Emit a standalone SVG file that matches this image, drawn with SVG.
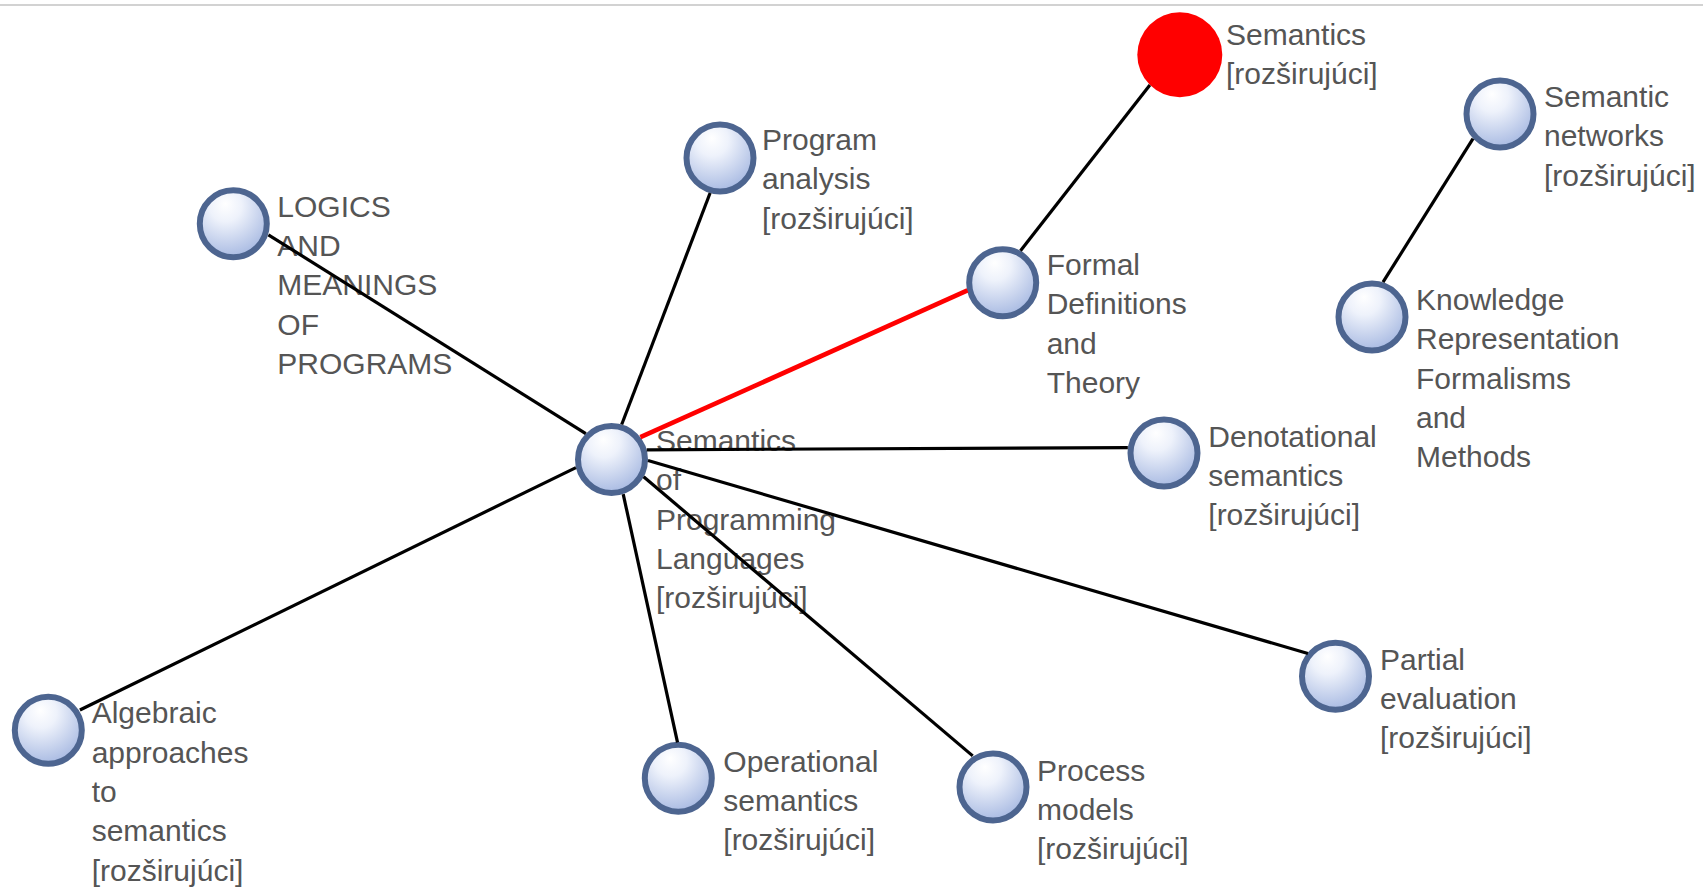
<svg xmlns="http://www.w3.org/2000/svg" width="1703" height="887" viewBox="0 0 1703 887">
<style>
.node{fill:url(#nodeFill);stroke:#4d6590;stroke-width:6}
.lbl{font-family:"Liberation Sans",Arial,sans-serif;font-size:30px;fill:#555555}
.edge{stroke:#000000;stroke-width:3.2;fill:none}
.edge.hl{stroke:#ff0000;stroke-width:4.6}
</style>
<defs>
<radialGradient id="nodeFill" cx="0.4" cy="0.3" r="0.8" fx="0.38" fy="0.2">
<stop offset="0" stop-color="#ffffff"/>
<stop offset="0.3" stop-color="#eef2fb"/>
<stop offset="1" stop-color="#9db1de"/>
</radialGradient>
</defs>
<rect x="0" y="0" width="1703" height="887" fill="#ffffff"/>
<line x1="0" y1="5" x2="1703" y2="5" stroke="#d2d2d2" stroke-width="2"/>

<g id="node-spl">
<circle class="node" cx="611.5" cy="459.5" r="33.5"/>
<text class="lbl" x="656" y="451"><tspan x="656">Semantics</tspan><tspan x="656" dy="39.3">of</tspan><tspan x="656" dy="39.3">Programming</tspan><tspan x="656" dy="39.3">Languages</tspan><tspan x="656" dy="39.3">[rozširujúci]</tspan></text>
</g>
<g id="node-logics">
<circle class="node" cx="233.3" cy="223.7" r="33.5"/>
<text class="lbl" x="277.3" y="216.7"><tspan x="277.3">LOGICS</tspan><tspan x="277.3" dy="39.3">AND</tspan><tspan x="277.3" dy="39.3">MEANINGS</tspan><tspan x="277.3" dy="39.3">OF</tspan><tspan x="277.3" dy="39.3">PROGRAMS</tspan></text>
</g>
<g id="node-program-analysis">
<circle class="node" cx="720" cy="158" r="33.5"/>
<text class="lbl" x="762" y="150"><tspan x="762">Program</tspan><tspan x="762" dy="39.3">analysis</tspan><tspan x="762" dy="39.3">[rozširujúci]</tspan></text>
</g>
<g id="node-formal">
<circle class="node" cx="1002.7" cy="282.7" r="33.5"/>
<text class="lbl" x="1046.7" y="275"><tspan x="1046.7">Formal</tspan><tspan x="1046.7" dy="39.3">Definitions</tspan><tspan x="1046.7" dy="39.3">and</tspan><tspan x="1046.7" dy="39.3">Theory</tspan></text>
</g>
<g id="node-semantics">
<circle cx="1179.8" cy="54.8" r="42.5" fill="#ff0000"/>
<text class="lbl" x="1226" y="45"><tspan x="1226">Semantics</tspan><tspan x="1226" dy="39.3">[rozširujúci]</tspan></text>
</g>
<g id="node-semantic-networks">
<circle class="node" cx="1500" cy="114" r="33.5"/>
<text class="lbl" x="1544" y="107"><tspan x="1544">Semantic</tspan><tspan x="1544" dy="39.3">networks</tspan><tspan x="1544" dy="39.3">[rozširujúci]</tspan></text>
</g>
<g id="node-knowledge">
<circle class="node" cx="1372" cy="317" r="33.5"/>
<text class="lbl" x="1416" y="310"><tspan x="1416">Knowledge</tspan><tspan x="1416" dy="39.3">Representation</tspan><tspan x="1416" dy="39.3">Formalisms</tspan><tspan x="1416" dy="39.3">and</tspan><tspan x="1416" dy="39.3">Methods</tspan></text>
</g>
<g id="node-denotational">
<circle class="node" cx="1164" cy="453" r="33.5"/>
<text class="lbl" x="1208.3" y="446.5"><tspan x="1208.3">Denotational</tspan><tspan x="1208.3" dy="39.3">semantics</tspan><tspan x="1208.3" dy="39.3">[rozširujúci]</tspan></text>
</g>
<g id="node-partial">
<circle class="node" cx="1335.5" cy="676.3" r="33.5"/>
<text class="lbl" x="1380" y="669.5"><tspan x="1380">Partial</tspan><tspan x="1380" dy="39.3">evaluation</tspan><tspan x="1380" dy="39.3">[rozširujúci]</tspan></text>
</g>
<g id="node-process">
<circle class="node" cx="993" cy="787" r="33.5"/>
<text class="lbl" x="1037" y="780.5"><tspan x="1037">Process</tspan><tspan x="1037" dy="39.3">models</tspan><tspan x="1037" dy="39.3">[rozširujúci]</tspan></text>
</g>
<g id="node-operational">
<circle class="node" cx="678.3" cy="778.3" r="33.5"/>
<text class="lbl" x="723.3" y="771.5"><tspan x="723.3">Operational</tspan><tspan x="723.3" dy="39.3">semantics</tspan><tspan x="723.3" dy="39.3">[rozširujúci]</tspan></text>
</g>
<g id="node-algebraic">
<circle class="node" cx="48.3" cy="730.3" r="33.5"/>
<text class="lbl" x="91.7" y="723.3"><tspan x="91.7">Algebraic</tspan><tspan x="91.7" dy="39.3">approaches</tspan><tspan x="91.7" dy="39.3">to</tspan><tspan x="91.7" dy="39.3">semantics</tspan><tspan x="91.7" dy="39.3">[rozširujúci]</tspan></text>
</g>

<g id="connectors">
<line class="edge" x1="585.8" y1="433.6" x2="268.4" y2="234.8"/>
<line class="edge" x1="621.7" y1="424.5" x2="710.1" y2="193.0"/>
<line class="edge hl" x1="640.4" y1="437.2" x2="967.5" y2="290.4"/>
<line class="edge" x1="1020.5" y1="250.8" x2="1149.9" y2="85.1"/>
<line class="edge" x1="1383.0" y1="282.2" x2="1473.0" y2="138.7"/>
<line class="edge" x1="646.7" y1="449.8" x2="1127.8" y2="447.6"/>
<line class="edge" x1="648.0" y1="460.5" x2="1307.9" y2="653.5"/>
<line class="edge" x1="643.6" y1="476.8" x2="972.7" y2="755.9"/>
<line class="edge" x1="623.2" y1="494.1" x2="677.5" y2="742.4"/>
<line class="edge" x1="575.9" y1="467.6" x2="79.9" y2="710.0"/>
</g>
</svg>
